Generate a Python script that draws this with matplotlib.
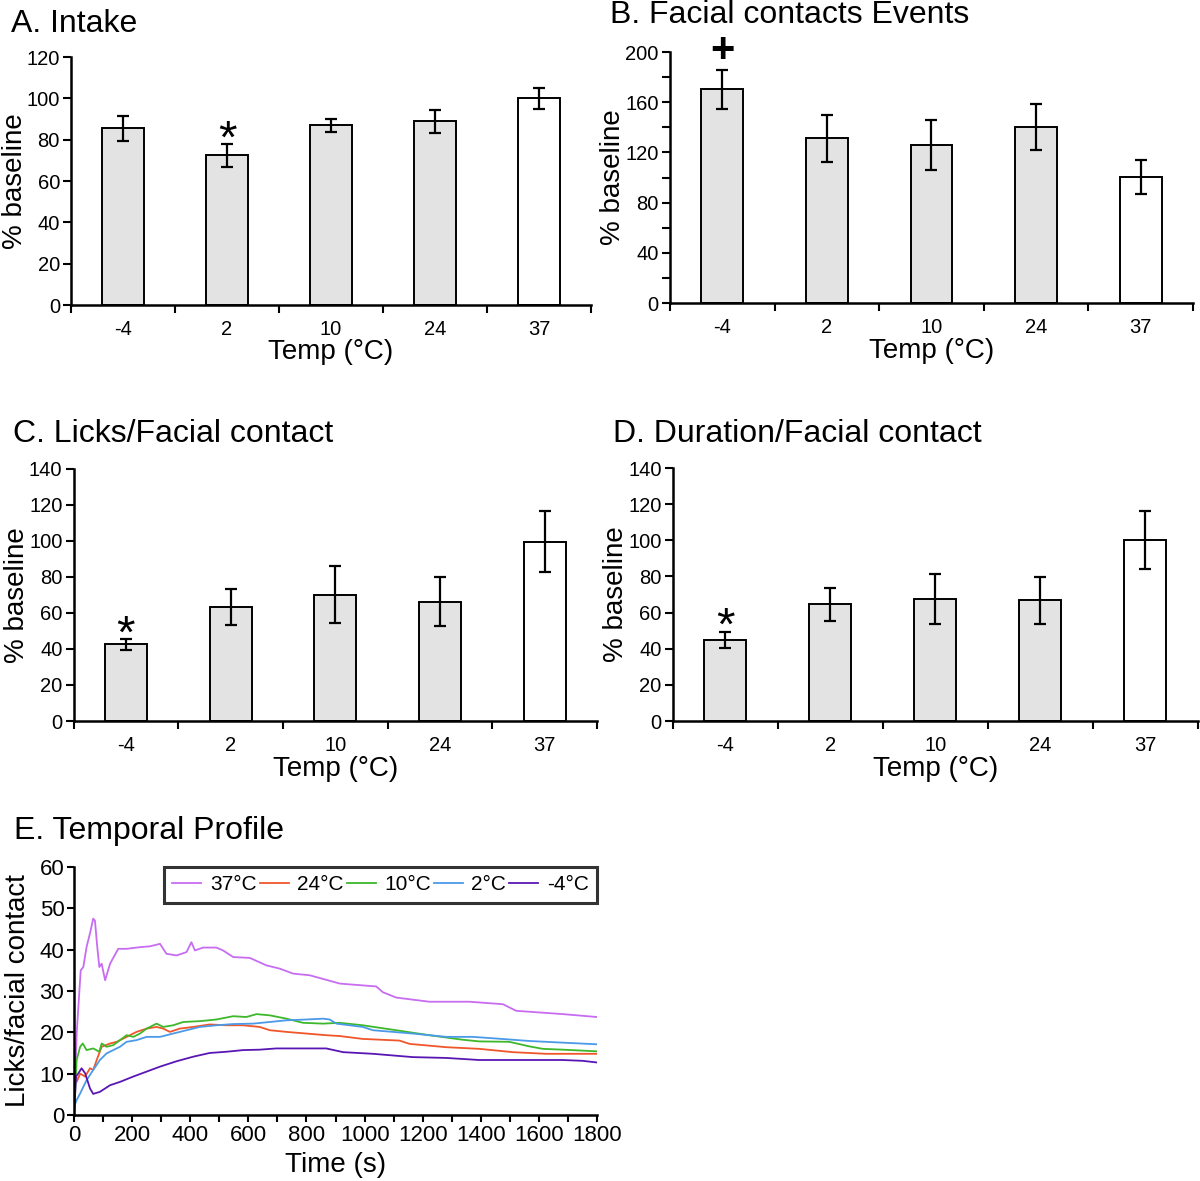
import numpy as np
import matplotlib
matplotlib.use('Agg')
import matplotlib.pyplot as plt

plt.rcParams['font.family'] = ['Liberation Sans', 'DejaVu Sans']

# Temperatures (categories) for the bar panels
temps = ['-4', '2', '10', '24', '37']

# Bar panel values (% baseline) and error bars
intake = [85.5, 72.4, 86.9, 88.9, 100.0]
intake_err = [6.0, 5.5, 3.0, 5.5, 5.0]
events = [170.4, 131.3, 125.7, 140.1, 100.4]
events_err = [15.5, 18.6, 19.8, 18.2, 13.5]
licks = [42.5, 63.1, 70.2, 66.3, 99.7]
licks_err = [3.3, 10.0, 16.0, 13.5, 16.7]
duration = [44.8, 64.5, 67.5, 66.8, 100.1]
duration_err = [4.6, 9.0, 14.0, 13.0, 16.0]

# Temporal profile (time in s, licks/facial contact)
t_37 = [0, 9, 23, 32, 43, 55, 66, 72, 80, 87, 95, 107, 124, 152, 181, 227, 261, 296, 318,
        353, 387, 404, 416, 444, 490, 513, 548, 605, 662, 708, 754, 811, 868, 914, 948,
        1040, 1063, 1109, 1223, 1361, 1476, 1522, 1683, 1800]
v_37 = [0, 19.7, 35.0, 35.8, 40.6, 44.0, 47.5, 47.0, 40.6, 35.8, 36.6, 32.6, 36.6, 40.2,
        40.2, 40.6, 40.8, 41.4, 39.0, 38.6, 39.4, 41.8, 39.8, 40.5, 40.5, 39.8, 38.2, 38.0,
        36.2, 35.4, 34.2, 33.8, 32.7, 31.8, 31.6, 31.1, 29.7, 28.4, 27.4, 27.4, 26.8, 25.2,
        24.4, 23.7]

t_24 = [0, 3, 9, 21, 38, 55, 66, 78, 95, 124, 147, 181, 215, 250, 284, 307, 330, 364, 410,
        467, 525, 582, 639, 674, 731, 800, 868, 914, 994, 1120, 1155, 1281, 1395, 1510,
        1624, 1800]
v_24 = [0, 14.0, 8.0, 10.0, 9.3, 11.3, 10.9, 13.3, 16.5, 17.3, 17.7, 18.9, 20.1, 20.9,
        21.3, 20.9, 20.1, 20.9, 21.3, 21.9, 21.7, 21.7, 21.3, 20.5, 20.1, 19.7, 19.3, 19.1,
        18.4, 18.0, 17.2, 16.4, 16.0, 15.2, 14.8, 14.8]

t_10 = [0, 9, 21, 30, 43, 66, 87, 95, 112, 135, 158, 181, 204, 227, 250, 284, 307, 341,
        376, 433, 490, 548, 593, 628, 674, 731, 788, 857, 914, 994, 1109, 1223, 1338, 1395,
        1498, 1567, 1613, 1682, 1800]
v_10 = [0, 13.3, 16.5, 17.3, 15.7, 16.1, 15.3, 17.3, 16.5, 16.9, 18.1, 19.3, 18.9, 19.7,
        20.9, 22.1, 21.3, 21.7, 22.5, 22.7, 23.1, 23.9, 23.7, 24.4, 24.1, 23.3, 22.3, 22.1,
        22.3, 21.7, 20.5, 19.3, 18.2, 17.8, 17.7, 16.6, 16.0, 15.8, 15.4]

t_2 = [0, 9, 21, 43, 66, 89, 112, 135, 158, 181, 215, 250, 296, 341, 387, 433, 490, 548,
       616, 674, 731, 800, 857, 880, 903, 994, 1029, 1166, 1281, 1372, 1453, 1567, 1682, 1800]
v_2 = [2.0, 3.6, 5.2, 8.4, 10.9, 13.3, 14.9, 15.7, 16.5, 17.7, 18.1, 18.9, 18.9, 19.7, 20.5,
       21.3, 21.7, 22.0, 22.1, 22.5, 22.9, 23.1, 23.3, 23.1, 22.1, 21.3, 20.5, 19.7, 18.9,
       18.9, 18.5, 17.9, 17.5, 17.1]

t_m4 = [0, 7, 15, 26, 38, 55, 66, 89, 124, 158, 204, 250, 296, 353, 410, 467, 525, 582, 639,
        696, 754, 811, 868, 926, 1029, 1166, 1281, 1395, 1510, 1682, 1751, 1800]
v_m4 = [0, 9.3, 10.1, 11.3, 10.1, 6.4, 5.1, 5.6, 7.2, 8.0, 9.3, 10.5, 11.7, 13.0, 14.1, 15.0,
        15.3, 15.7, 15.8, 16.1, 16.1, 16.1, 16.1, 15.2, 14.8, 14.0, 13.8, 13.3, 13.3, 13.3,
        13.1, 12.7]

bar_colors = ['#e3e3e3', '#e3e3e3', '#e3e3e3', '#e3e3e3', 'white']

fig = plt.figure(figsize=(12, 11.81), dpi=100)


def bar_panel(rect, vals, errs, ymax, ystep, label_step):
    ax = fig.add_axes(rect)
    x = np.arange(len(temps))
    ax.bar(x, vals, width=0.4, color=bar_colors, edgecolor='black', linewidth=1.4, zorder=2)
    ax.errorbar(x, vals, yerr=errs, fmt='none', ecolor='black', elinewidth=1.6,
                capsize=4, capthick=1.6, zorder=3)
    ax.set_xlim(-0.5, 4.5)
    ax.set_ylim(0, ymax)
    # labels at category centres, tick marks between categories
    ax.set_xticks(x)
    ax.set_xticklabels(temps)
    ax.set_xticks(np.arange(-0.5, 5.0, 1.0), minor=True)
    ax.tick_params(axis='x', which='major', length=0, pad=11, labelsize=14.5)
    ax.tick_params(axis='x', which='minor', length=6, width=1.5, direction='out')
    ax.set_yticks(np.arange(0, ymax + 1, label_step))
    ax.set_yticks(np.arange(0, ymax + 1, ystep), minor=True)
    ax.tick_params(axis='y', which='both', length=6, width=1.5, labelsize=14.5, pad=2)
    for s in ['top', 'right']:
        ax.spines[s].set_visible(False)
    for s in ['left', 'bottom']:
        ax.spines[s].set_linewidth(1.8)
    ax.set_xlabel('Temp (\u00b0C)', fontsize=20)
    ax.xaxis.set_label_coords(0.5, -0.19)
    ax.xaxis.label.set_va('center')
    ax.set_ylabel('% baseline', fontsize=20)
    ax.yaxis.set_label_coords(-0.108, 0.5)
    ax.yaxis.label.set_va('center')
    return ax


def mark(ax, x, y, s, size, bold=False, dy=-8):
    ax.annotate(s, (x, y), xytext=(0, dy), textcoords='offset points', fontsize=size,
                fontweight='bold' if bold else 'normal', ha='center', va='center',
                annotation_clip=False)


axA = bar_panel([0.0592, 0.7417, 0.4333, 0.21], intake, intake_err, 120, 20, 20)
mark(axA, 1, 84.8, '*', 34)
fig.text(0.0095, 0.973, 'A. Intake', fontsize=23)

axB = bar_panel([0.5583, 0.7434, 0.4358, 0.2125], events, events_err, 200, 20, 40)
mark(axB, 0, 203, '+', 30, bold=True, dy=-2)
fig.text(0.508, 0.9805, 'B. Facial contacts Events', fontsize=23)

axC = bar_panel([0.0613, 0.3895, 0.4363, 0.2134], licks, licks_err, 140, 20, 20)
mark(axC, 0, 53.3, '*', 34)
fig.text(0.011, 0.626, 'C. Licks/Facial contact', fontsize=23)

axD = bar_panel([0.5606, 0.3895, 0.4377, 0.2142], duration, duration_err, 140, 20, 20)
mark(axD, 0, 57.7, '*', 34)
fig.text(0.511, 0.626, 'D. Duration/Facial contact', fontsize=23)

# E. temporal profile
axE = fig.add_axes([0.0617, 0.0559, 0.4358, 0.21])
axE.plot(t_37, v_37, color='#c86cf2', lw=1.3, label='37\u00b0C')
axE.plot(t_24, v_24, color='#f0562a', lw=1.3, label='24\u00b0C')
axE.plot(t_10, v_10, color='#3cb82a', lw=1.3, label='10\u00b0C')
axE.plot(t_2, v_2, color='#4b9ae8', lw=1.3, label='2\u00b0C')
axE.plot(t_m4, v_m4, color='#5a16b4', lw=1.3, label='-4\u00b0C')
axE.set_xlim(0, 1800)
axE.set_ylim(0, 60)
axE.set_xticks(np.arange(0, 1801, 200))
axE.set_xticks(np.arange(0, 1801, 100), minor=True)
axE.set_yticks(np.arange(0, 61, 10))
axE.tick_params(axis='both', which='both', length=5, width=1.5, labelsize=16, pad=2)
for s in ['top', 'right']:
    axE.spines[s].set_visible(False)
for s in ['left', 'bottom']:
    axE.spines[s].set_linewidth(1.8)
axE.set_xlabel('Time (s)', fontsize=20)
axE.xaxis.set_label_coords(0.5, -0.2)
axE.xaxis.label.set_va('center')
axE.set_ylabel('Licks/facial contact', fontsize=20)
axE.yaxis.set_label_coords(-0.107, 0.5)
axE.yaxis.label.set_va('center')
leg = axE.legend(loc='upper left', bbox_to_anchor=(0.172, 1.0, 0.828, 0.0), mode='expand',
                 ncol=5, fontsize=15, frameon=True, fancybox=False, borderaxespad=0,
                 handlelength=1.4, handletextpad=0.4, columnspacing=0.3, borderpad=0.4)
leg.get_frame().set_edgecolor('black')
leg.get_frame().set_linewidth(2.2)
fig.text(0.0115, 0.2895, 'E. Temporal Profile', fontsize=23)

fig.savefig('out.png', dpi=100)
